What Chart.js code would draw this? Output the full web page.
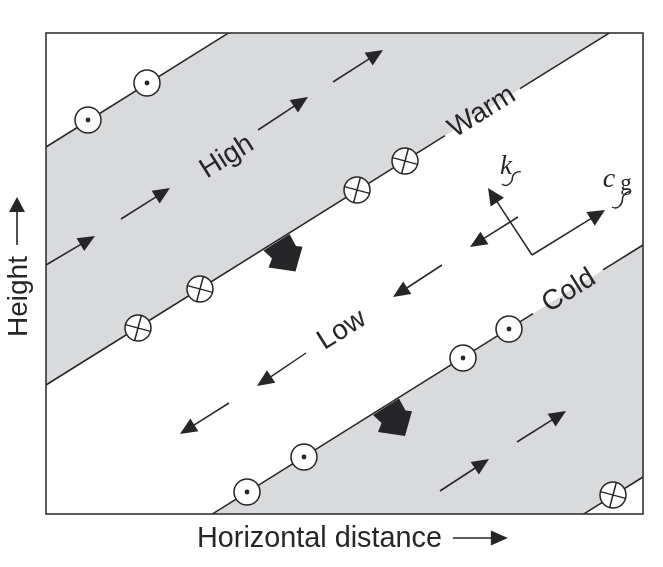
<!DOCTYPE html>
<html><head><meta charset="utf-8">
<script src="https://cdn.jsdelivr.net/npm/chart.js@4/dist/chart.umd.min.js"></script>
<style>html,body{margin:0;padding:0;background:#fff}#wrap{width:663px;height:567px;position:relative}</style>
</head><body><div id="wrap"><canvas id="c"></canvas></div>
<script>
// ---- data (x: horizontal distance, y: height; arbitrary units) ----
const xRange = [0, 597];
const yRange = [0, 481];
const frontA = [{x:0,y:367},{x:597,y:740}];
const frontB = [{x:0,y:129},{x:597,y:502}];
const frontC = [{x:0,y:-104},{x:597,y:269}];
const frontD = [{x:0,y:-336},{x:597,y:37}];
const strokeB = [{x:0,y:129},{x:399,y:378.4},{x:436,y:null},{x:474,y:425.3},{x:597,y:502}];
const strokeC = [{x:0,y:-104},{x:487,y:200.4},{x:522,y:null},{x:557,y:244.1},{x:597,y:269}];
const outOfPage = [{x:42,y:394},{x:101,y:431},{x:201,y:22},{x:258,y:57},{x:417,y:156},{x:463,y:185}];
const intoPage = [{x:92,y:186},{x:154,y:225},{x:311,y:324},{x:359,y:353},{x:567,y:19}];
const flowArrows = [
  [0,249,49,278],[75,295,124,326],[212,384,262,417],[287,432,337,464],
  [472,297,424,267],[396,249,347,217],[260,161,211,128],[183,111,134,80],
  [394,23,443,55],[471,72,520,103]
];
const thickArrows = [{x:230,y:272.5},{x:339.5,y:108}];
const bandLabels = [
  {text:'High',x:181,y:357},{text:'Low',x:296,y:184},
  {text:'Warm',x:436,y:402},{text:'Cold',x:523,y:223}
];
const vecOrigin = {x:486,y:259};
const kTip = {x:442,y:326};
const cgTip = {x:559,y:304};
const kLabel = {x:460,y:347};
const cgLabel = {x:563,y:332};
const xTitle = 'Horizontal distance';
const yTitle = 'Height';

// ---- styles ----
const INK = '#262528';
const GRAY = '#d9dadc';
const FONT = '"Liberation Sans", Arial, sans-serif';

function arrow(ctx, x1, y1, x2, y2, hl, hw) {
  const dx = x2 - x1, dy = y2 - y1, L = Math.hypot(dx, dy);
  const ux = dx / L, uy = dy / L;
  const bx = x2 - ux * hl, by = y2 - uy * hl;
  ctx.beginPath(); ctx.moveTo(x1, y1); ctx.lineTo(bx + ux, by + uy); ctx.stroke();
  ctx.beginPath(); ctx.moveTo(x2, y2);
  ctx.lineTo(bx - uy * hw, by + ux * hw);
  ctx.lineTo(bx + uy * hw, by - ux * hw);
  ctx.closePath(); ctx.fill();
}
function tilde(ctx, sx, sy, ex, ey, a) {
  const dx = ex - sx, dy = ey - sy, L = Math.hypot(dx, dy);
  const ux = dx / L, uy = dy / L, nx = -uy, ny = ux;
  ctx.beginPath(); ctx.moveTo(sx, sy);
  ctx.bezierCurveTo(sx + ux*L*0.1 + nx*a*2, sy + uy*L*0.1 + ny*a*2,
                    sx + ux*L*0.45 + nx*a*1.2, sy + uy*L*0.45 + ny*a*1.2,
                    sx + ux*L*0.55, sy + uy*L*0.55);
  ctx.bezierCurveTo(sx + ux*L*0.7 - nx*a*1.2, sy + uy*L*0.7 - ny*a*1.2,
                    sx + ux*L*0.95 - nx*a*0.6, sy + uy*L*0.95 - ny*a*0.6,
                    ex, ey);
  ctx.stroke();
}

const decor = {
  id: 'decor',
  afterDatasetsDraw(chart) {
    const ctx = chart.ctx, xs = chart.scales.x, ys = chart.scales.y, ca = chart.chartArea;
    const px = v => xs.getPixelForValue(v), py = v => ys.getPixelForValue(v);
    const ang = Math.atan2(py(frontB[1].y) - py(frontB[0].y), px(frontB[1].x) - px(frontB[0].x));
    ctx.save();
    ctx.strokeStyle = INK; ctx.fillStyle = INK; ctx.lineWidth = 1.5; ctx.lineCap = 'butt';
    // flow arrows
    flowArrows.forEach(a => arrow(ctx, px(a[0]), py(a[1]), px(a[2]), py(a[3]), 17, 7.5));
    // thick arrows
    const shape = [[-12.5,9],[13.5,-7.5],[20,4.5],[26.5,5.2],[19.5,30],[-7.5,26],[-4,17]];
    thickArrows.forEach(p => {
      const cx = px(p.x), cy = py(p.y);
      ctx.beginPath();
      shape.forEach((s, i) => i ? ctx.lineTo(cx + s[0], cy + s[1]) : ctx.moveTo(cx + s[0], cy + s[1]));
      ctx.closePath(); ctx.fill();
    });
    // k and cg vectors
    const ox = px(vecOrigin.x), oy = py(vecOrigin.y);
    arrow(ctx, ox, oy, px(kTip.x), py(kTip.y), 17, 8);
    arrow(ctx, ox, oy, px(cgTip.x), py(cgTip.y), 17, 8);
    ctx.textAlign = 'center'; ctx.textBaseline = 'middle';
    ctx.font = 'italic 27px "Liberation Serif", "DejaVu Serif", serif';
    ctx.fillText('k', px(kLabel.x), py(kLabel.y));
    ctx.font = 'italic 28px "Liberation Serif", "DejaVu Serif", serif';
    ctx.fillText('c', px(cgLabel.x), py(cgLabel.y) - 2);
    ctx.font = '23px "Liberation Serif", "DejaVu Serif", serif';
    ctx.fillText('g', px(cgLabel.x) + 17, py(cgLabel.y) + 2);
    ctx.lineWidth = 1.4;
    tilde(ctx, px(kLabel.x) - 4, py(kLabel.y) + 17, px(kLabel.x) + 15, py(kLabel.y) + 5, 3.2);
    tilde(ctx, px(cgLabel.x) + 3, py(cgLabel.y) + 25, px(cgLabel.x) + 22, py(cgLabel.y) + 10, 3.2);
    // band labels
    ctx.font = '28px ' + FONT;
    ctx.textAlign = 'center'; ctx.textBaseline = 'middle';
    bandLabels.forEach(l => {
      ctx.save(); ctx.translate(px(l.x), py(l.y)); ctx.rotate(ang);
      ctx.fillText(l.text, 0, 0); ctx.restore();
    });
    // frame
    ctx.lineWidth = 1.6; ctx.strokeStyle = '#333';
    ctx.strokeRect(ca.left, ca.top, ca.right - ca.left, ca.bottom - ca.top);
    // axis titles
    ctx.fillStyle = INK; ctx.strokeStyle = INK;
    ctx.font = '28.8px ' + FONT;
    ctx.textAlign = 'left'; ctx.textBaseline = 'alphabetic';
    const tx = ca.left + 151, ty = ca.bottom + 33;
    ctx.fillText(xTitle, tx, ty);
    const tw = ctx.measureText(xTitle).width;
    ctx.lineWidth = 1.6;
    arrow(ctx, tx + tw + 11, ty - 9, tx + tw + 66, ty - 9, 17, 7.5);
    ctx.font = '28px ' + FONT;
    ctx.save();
    ctx.translate(ca.left - 19, ca.top + 304); ctx.rotate(-Math.PI / 2);
    ctx.fillText(yTitle, 0, 0);
    const hw = ctx.measureText(yTitle).width;
    arrow(ctx, hw + 11, -10, hw + 59, -10, 15, 8);
    ctx.restore();
    ctx.restore();
  }
};

const lineDs = (data, extra) => Object.assign({
  data, borderColor: INK, borderWidth: 1.5, pointRadius: 0, fill: false,
  tension: 0, clip: 0, order: 5, spanGaps: false
}, extra);

new Chart(document.getElementById('c'), {
  type: 'line',
  data: {
    datasets: [
      {data: intoPage, showLine: false, pointStyle: 'cross', pointRotation: 15, pointRadius: 13,
       borderColor: INK, borderWidth: 1.5, order: 0, clip: false},
      {data: outOfPage, showLine: false, pointStyle: 'circle', pointRadius: 2.4,
       backgroundColor: INK, borderColor: INK, borderWidth: 0, order: 0, clip: false},
      {data: outOfPage.concat(intoPage), showLine: false, pointStyle: 'circle', pointRadius: 13,
       backgroundColor: '#fff', borderColor: INK, borderWidth: 1.5, order: 1, clip: false},
      lineDs(frontA, {fill: '+1', backgroundColor: GRAY}),
      lineDs(frontB, {borderWidth: 0}),
      lineDs(frontC, {fill: '+1', backgroundColor: GRAY, borderWidth: 0}),
      lineDs(frontD, {}),
      lineDs(strokeB, {}),
      lineDs(strokeC, {})
    ]
  },
  options: {
    responsive: true, maintainAspectRatio: false, animation: false, events: [],
    layout: {padding: {left: 46, right: 20, top: 33, bottom: 53}},
    scales: {
      x: {type: 'linear', min: xRange[0], max: xRange[1], display: false},
      y: {type: 'linear', min: yRange[0], max: yRange[1], display: false}
    },
    plugins: {legend: {display: false}, tooltip: {enabled: false}, filler: {drawTime: 'beforeDatasetsDraw'}}
  },
  plugins: [decor]
});
</script></body></html>
